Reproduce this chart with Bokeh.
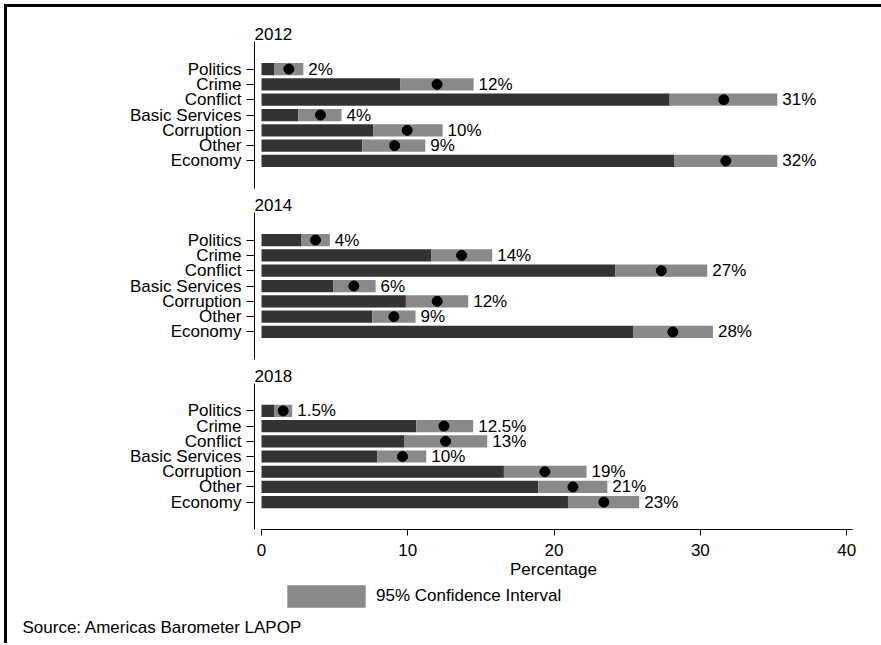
from bokeh.plotting import figure
from bokeh.models import (FactorRange, Range1d, FixedTicker, Label, Legend, LegendItem,
                          ColumnDataSource, Div, Spacer)
from bokeh.layouts import column, row
from bokeh.core.properties import value
from bokeh.embed import file_html
from bokeh.resources import INLINE

# ---------------- data ----------------
categories = ["Politics", "Crime", "Conflict", "Basic Services", "Corruption", "Other", "Economy"]
years = ["2012", "2014", "2018"]

lo_2012 = [0.89, 9.50, 27.90, 2.51, 7.63, 6.89, 28.20]
est_2012 = [1.87, 12.00, 31.60, 4.03, 9.96, 9.10, 31.74]
hi_2012 = [2.86, 14.50, 35.26, 5.47, 12.38, 11.20, 35.26]
lab_2012 = ["2%", "12%", "31%", "4%", "10%", "9%", "32%"]

lo_2014 = [2.74, 11.62, 24.20, 4.90, 9.87, 7.57, 25.40]
est_2014 = [3.69, 13.68, 27.33, 6.31, 12.01, 9.05, 28.12]
hi_2014 = [4.67, 15.77, 30.47, 7.80, 14.13, 10.53, 30.86]
lab_2014 = ["4%", "14%", "27%", "6%", "12%", "9%", "28%"]

lo_2018 = [0.89, 10.58, 9.78, 7.91, 16.57, 18.92, 20.95]
est_2018 = [1.48, 12.47, 12.58, 9.64, 19.37, 21.29, 23.40]
hi_2018 = [2.10, 14.47, 15.43, 11.26, 22.22, 23.64, 25.82]
lab_2018 = ["1.5%", "12.5%", "13%", "10%", "19%", "21%", "23%"]

x_ticks = [0, 10, 20, 30, 40]
x_label = "Percentage"
legend_label = "95% Confidence Interval"
source_note = "Source: Americas Barometer LAPOP"

# ---------------- style ----------------
FONT = "Liberation Sans"
FS = "17px"
DARK = "#333333"
GRAY = "#898989"
W = 870


def make_panel(year, lo, est, hi, labels, height, top, bottom, show_x):
    src = ColumnDataSource(dict(cat=categories, lo=lo, est=est, hi=hi, label=labels))
    yr = FactorRange(factors=categories[::-1], range_padding=1.3,
                     range_padding_units="absolute")
    p = figure(width=W, height=height, y_range=yr, x_range=Range1d(-0.479, 40.4),
               output_backend="svg", toolbar_location=None, title=year,
               min_border_left=247, min_border_right=25,
               min_border_top=top, min_border_bottom=bottom,
               x_axis_location="below" if show_x else None)
    p.outline_line_color = None
    p.background_fill_color = "white"
    p.border_fill_color = "white"
    p.grid.visible = False

    p.hbar(y="cat", left=0, right="lo", height=0.8, source=src,
           fill_color=DARK, line_color=None)
    p.hbar(y="cat", left="lo", right="hi", height=0.8, source=src,
           fill_color=GRAY, line_color=None)
    p.scatter(x="est", y="cat", size=10, color="black", source=src)
    p.text(x="hi", y="cat", text="label", x_offset=5, source=src,
           text_baseline="middle", text_align="left",
           text_font=value(FONT), text_font_size=FS, text_color="black")

    p.title.text_font = FONT
    p.title.text_font_size = FS
    p.title.text_font_style = "normal"
    p.title.text_color = "black"
    p.title.align = "left"
    p.title.standoff = 4
    p.title.offset = 0

    ya = p.yaxis[0]
    ya.axis_line_color = "black"
    ya.major_tick_line_color = "black"
    ya.major_tick_out = 8
    ya.major_tick_in = 0
    ya.major_label_standoff = 5
    ya.major_label_text_font = FONT
    ya.major_label_text_font_size = FS
    ya.major_label_text_color = "black"

    if show_x:
        xa = p.xaxis[0]
        xa.ticker = FixedTicker(ticks=x_ticks)
        xa.bounds = (0, 40.4)
        xa.axis_line_color = "black"
        xa.major_tick_line_color = "black"
        xa.minor_tick_line_color = None
        xa.major_tick_out = 6
        xa.major_tick_in = 0
        xa.major_label_standoff = 8
        xa.major_label_text_font = FONT
        xa.major_label_text_font_size = FS
        xa.major_label_text_color = "black"
        xa.axis_label = x_label
        xa.axis_label_text_font = FONT
        xa.axis_label_text_font_size = FS
        xa.axis_label_text_font_style = "normal"
        xa.axis_label_text_color = "black"
        xa.axis_label_standoff = 1
    return p


p1 = make_panel(years[0], lo_2012, est_2012, hi_2012, lab_2012, 183, 34, 2, False)
p2 = make_panel(years[1], lo_2014, est_2014, hi_2014, lab_2014, 171, 22, 2, False)
p3 = make_panel(years[2], lo_2018, est_2018, hi_2018, lab_2018, 220, 22, 51, True)

# legend + source strip
lf = figure(width=W, height=62, x_range=Range1d(0, 1), y_range=Range1d(0, 1),
            output_backend="svg", toolbar_location=None, min_border=0,
            x_axis_location=None, y_axis_location=None)
lf.frame_align = False
lf.outline_line_color = None
lf.grid.visible = False
# zero-size proxy renderer used only to draw the legend swatch
proxy = lf.hbar(y=[0.5], left=[0], right=[0], height=0, fill_color=GRAY, line_color=None)
leg = Legend(items=[LegendItem(label=legend_label, renderers=[proxy])],
             location=(270, 33), orientation="vertical",
             glyph_width=98, glyph_height=28, label_standoff=1,
             padding=0, margin=0, spacing=0,
             border_line_color=None, background_fill_alpha=0,
             label_text_font=FONT, label_text_font_size=FS, label_text_color="black")
lf.add_layout(leg)
lf.add_layout(Label(x=15, y=16, x_units="screen", y_units="screen", text=source_note,
                    text_font=FONT, text_font_size=FS, text_color="black",
                    text_baseline="middle"))

top_line = Div(text="", width=877, height=3, margin=0,
               styles={"background-color": "black"})
left_line = Div(text="", width=3, height=636, margin=0,
                styles={"background-color": "black"})

layout = column(
    Spacer(width=10, height=4, margin=0),
    row(Spacer(width=4, height=3, margin=0), top_line, margin=0),
    row(Spacer(width=4, height=10, margin=0), left_line,
        column(p1, p2, p3, lf, margin=0), margin=0),
    margin=0,
)

open("out.html", "w").write(file_html(layout, INLINE))
